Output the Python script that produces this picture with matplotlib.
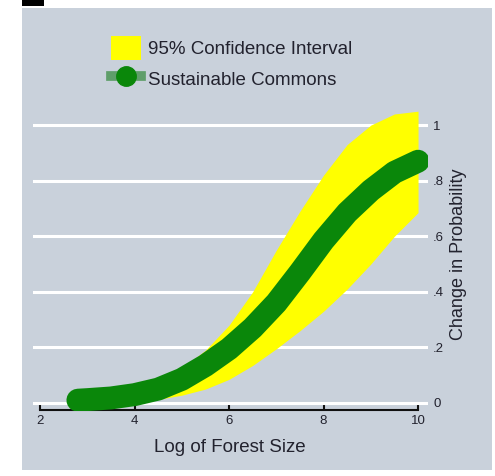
import matplotlib
matplotlib.use('Agg')
import matplotlib.pyplot as plt
from matplotlib.patches import Rectangle, Patch
from matplotlib.lines import Line2D

plt.rcParams['font.family'] = ['Liberation Sans', 'DejaVu Sans']

# values
log_size = [2.8, 3.0, 3.5, 4.0, 4.5, 5.0, 5.5, 6.0, 6.5, 7.0, 7.5, 8.0, 8.5, 9.0, 9.5, 10.0]
commons = [0.01, 0.012, 0.018, 0.03, 0.05, 0.085, 0.135, 0.195, 0.27, 0.36, 0.47, 0.585, 0.685, 0.765, 0.83, 0.87]
ci_upper = [0.02, 0.022, 0.032, 0.05, 0.08, 0.125, 0.19, 0.28, 0.4, 0.55, 0.69, 0.82, 0.93, 1.0, 1.04, 1.05]
ci_lower = [0.0, 0.0, 0.002, 0.005, 0.013, 0.028, 0.05, 0.085, 0.135, 0.195, 0.26, 0.33, 0.41, 0.5, 0.6, 0.685]

xticks = [2, 4, 6, 8, 10]
yticks = [0, 0.2, 0.4, 0.6, 0.8, 1.0]
ytick_labels = ['0', '.2', '.4', '.6', '.8', '1']

txt = '#22222e'
panel = '#c9d1db'

fig = plt.figure(figsize=(4.95, 4.76), dpi=100)
fig.patch.set_facecolor('white')
fig.add_artist(Rectangle((22 / 495, 6 / 476), 470 / 495, 462 / 476,
                         transform=fig.transFigure, facecolor=panel,
                         edgecolor='none', zorder=-5))
fig.add_artist(Rectangle((22 / 495, 1 - 6 / 476), 22 / 495, 6 / 476,
                         transform=fig.transFigure, facecolor='black',
                         edgecolor='none', zorder=-5))

ax = fig.add_axes([33 / 495, (476 - 411.3) / 476, 394.5 / 495, 314 / 476])
ax.set_zorder(2)
ax.set_facecolor('none')
ax.set_xlim(1.85, 10.2)
ax.set_ylim(-0.03, 1.1)

ax.fill_between(log_size, ci_lower, ci_upper, color='#ffff00', lw=0, zorder=2)
ax.plot(log_size, commons, color='#0a870a', lw=16.5, solid_capstyle='round',
        solid_joinstyle='round', zorder=3)

for s in ['top', 'left', 'right']:
    ax.spines[s].set_visible(False)
ax.spines['bottom'].set_bounds(2, 10)
ax.spines['bottom'].set_position(('data', -0.025))
ax.spines['bottom'].set_linewidth(1.5)
ax.spines['bottom'].set_color('#111111')

ax.set_xticks(xticks)
ax.set_xticklabels([str(t) for t in xticks])
ax.tick_params(axis='x', direction='in', length=5, width=1.5, color='#111111',
               labelsize=9.5, labelcolor=txt, pad=4)

ax.set_yticks(yticks)
ax.set_yticklabels(ytick_labels)
ax.yaxis.tick_right()
ax.yaxis.set_label_position('right')
ax.tick_params(axis='y', length=0, labelsize=9.5, labelcolor=txt, pad=4)
ax.grid(axis='y', color='white', lw=2.2, zorder=1)
ax.set_axisbelow(True)

ax.set_ylabel('Change in Probability', fontsize=13, color=txt, labelpad=4)
ax.set_xlabel('Log of Forest Size', fontsize=13.5, color=txt, labelpad=8)

handles = [Patch(facecolor='#ffff00', edgecolor='none'),
           Line2D([], [], color='#5f9e6a', lw=7, marker='o', markersize=14,
                  markerfacecolor='#0a870a', markeredgecolor='#0a870a',
                  markevery=[1])]
leg = fig.legend(handles, ['95% Confidence Interval', 'Sustainable Commons'],
                 loc='upper left', bbox_to_anchor=(94 / 495, 1 - 19 / 476),
                 frameon=False, fontsize=13.5, labelcolor=txt, handlelength=1.6,
                 handleheight=1.6, handletextpad=0.4, labelspacing=0.35)
leg.set_zorder(3)

fig.savefig('out.png', dpi=100)
